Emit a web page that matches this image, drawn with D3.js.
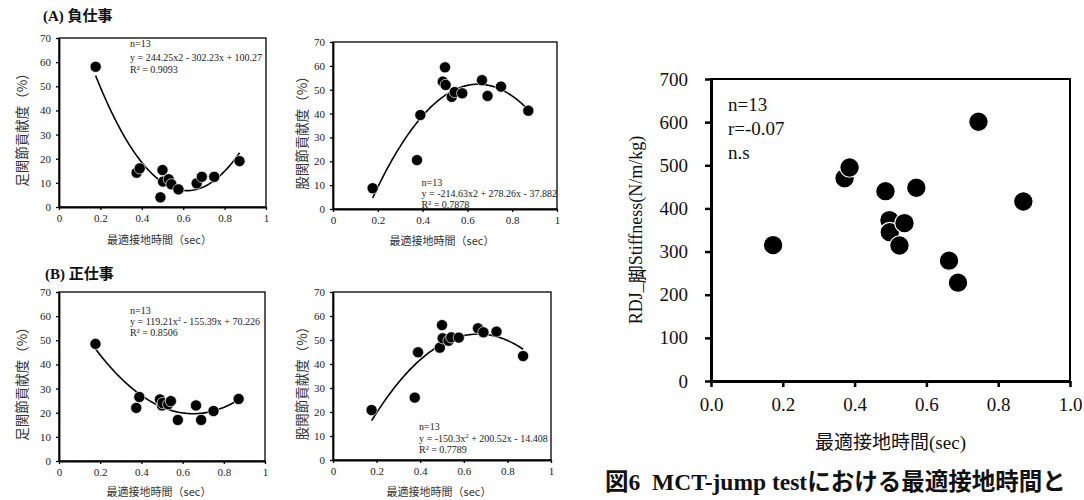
<!DOCTYPE html>
<html><head><meta charset="utf-8">
<script src="https://cdn.jsdelivr.net/npm/d3@7"></script>
<style>body{margin:0;background:#fff}</style></head><body>
<svg id="c" width="1084" height="500" xmlns="http://www.w3.org/2000/svg"></svg>
<script>
// ---- data ----
const contactTime = [0.177, 0.375, 0.39, 0.49, 0.5, 0.503, 0.53, 0.543, 0.577, 0.665, 0.69, 0.75, 0.872];
const ankleNeg = [58.1, 14.2, 16.0, 4.0, 15.3, 10.5, 11.5, 9.4, 7.3, 9.8, 12.5, 12.5, 19.0];
const hipNeg   = [8.7, 20.5, 39.4, 53.4, 59.4, 52.0, 47.0, 49.0, 48.5, 54.0, 47.4, 51.3, 41.2];
const anklePos = [48.5, 22.0, 26.5, 25.5, 23.0, 24.0, 23.5, 24.8, 17.0, 23.0, 17.0, 20.7, 25.7];
const hipPos   = [20.8, 26.0, 44.9, 46.8, 56.2, 50.7, 49.7, 51.1, 51.0, 54.9, 53.2, 53.5, 43.3];
const ankleNegFit = [244.25, -302.23, 100.27];
const hipNegFit   = [-214.63, 278.26, -37.882];
const anklePosFit = [119.21, -155.39, 70.226];
const hipPosFit   = [-150.3, 200.52, -14.408];
const smallYTicks = [0, 10, 20, 30, 40, 50, 60, 70];
const smallXTicks = [0, 0.2, 0.4, 0.6, 0.8, 1];

const stiffTime = [0.173, 0.372, 0.386, 0.486, 0.497, 0.498, 0.525, 0.539, 0.572, 0.663, 0.688, 0.745, 0.87];
const stiffness = [315, 470, 495, 440, 373, 345, 314, 366, 448, 279, 228, 601, 416];
const bigYTicks = [0, 100, 200, 300, 400, 500, 600, 700];
const bigXTicks = [0, 0.2, 0.4, 0.6, 0.8, 1.0];

const SERIF = "'Liberation Serif','Times New Roman',serif";
const CJK = "'Noto Sans CJK JP','Noto Sans',sans-serif";

const svg = d3.select('#c');

function smallPanel(cfg) {
  const x = d3.scaleLinear().domain([0, 1]).range([cfg.x0, cfg.x1]);
  const y = d3.scaleLinear().domain([0, 70]).range([cfg.yb, cfg.yt]);
  const g = svg.append('g');
  g.append('rect').attr('x', cfg.x0).attr('y', cfg.yt).attr('width', cfg.x1 - cfg.x0).attr('height', cfg.yb - cfg.yt)
    .attr('fill', 'none').attr('stroke', '#000').attr('stroke-width', 1.3);
  const ax = g.append('g').attr('transform', `translate(0,${cfg.yb})`)
    .call(d3.axisBottom(x).tickValues(smallXTicks).tickFormat(d3.format('')).tickSize(3).tickSizeOuter(0).tickPadding(4));
  const ay = g.append('g').attr('transform', `translate(${cfg.x0},0)`)
    .call(d3.axisLeft(y).tickValues(smallYTicks).tickSize(3).tickSizeOuter(0).tickPadding(5));
  [ax, ay].forEach(a => {
    a.select('.domain').attr('stroke-width', 1.8);
    a.selectAll('.tick line').attr('stroke-width', 1.3);
    a.selectAll('text').attr('font-family', SERIF).attr('font-size', 11).attr('fill', '#222');
  });
  const c = cfg.fit;
  const xs = d3.extent(contactTime);
  const pts = d3.range(0, 101).map(i => xs[0] + (xs[1] - xs[0]) * i / 100);
  g.append('path').attr('d', d3.line().x(d => x(d)).y(d => y(c[0] * d * d + c[1] * d + c[2]))(pts))
    .attr('fill', 'none').attr('stroke', '#000').attr('stroke-width', 1.6);
  g.selectAll('circle.p').data(cfg.vals).join('circle')
    .attr('cx', (d, i) => x(contactTime[i])).attr('cy', d => y(d)).attr('r', 5.6)
    .attr('fill', '#000').attr('stroke', '#fff').attr('stroke-width', 0.7);
  const t = g.append('g').attr('font-family', SERIF).attr('font-size', 10).attr('fill', '#222');
  t.append('text').attr('x', cfg.tx).attr('y', cfg.ty[0]).text('n=13');
  const eq = t.append('text').attr('x', cfg.tx).attr('y', cfg.ty[1]);
  eq.append('tspan').text(cfg.eq[0]);
  if (cfg.sup) {
    eq.append('tspan').attr('font-size', 6.5).attr('dy', -4).text('2');
    eq.append('tspan').attr('dy', 4).text(cfg.eq[1]);
  } else {
    eq.append('tspan').text('2' + cfg.eq[1]);
  }
  t.append('text').attr('x', cfg.tx).attr('y', cfg.ty[2]).text('R² = ' + cfg.r2);
  g.append('text').attr('transform', `translate(${cfg.ytx},${(cfg.yt + cfg.yb) / 2 + 4}) rotate(-90)`)
    .attr('text-anchor', 'middle').attr('dominant-baseline', 'central')
    .attr('font-family', CJK).attr('font-size', 13.5).attr('fill', '#333').text(cfg.ytitle);
  g.append('text').attr('x', (cfg.x0 + cfg.x1) / 2 - 3).attr('y', cfg.xty)
    .attr('text-anchor', 'middle').attr('font-family', CJK).attr('font-size', 11).attr('fill', '#333')
    .text('最適接地時間（sec）');
}

smallPanel({x0: 59, x1: 266, yt: 38, yb: 207, vals: ankleNeg, fit: ankleNegFit,
  eq: ['y = 244.25x', ' - 302.23x + 100.27'], sup: false, r2: '0.9093', tx: 130, ty: [46.5, 60.5, 72.5],
  ytitle: '足関節貢献度（%）', ytx: 21, xty: 244});
smallPanel({x0: 333, x1: 557, yt: 42, yb: 209, vals: hipNeg, fit: hipNegFit,
  eq: ['y = -214.63x', ' + 278.26x - 37.882'], sup: false, r2: '0.7878', tx: 421.5, ty: [185.5, 196.5, 207.5],
  ytitle: '股関節貢献度（%）', ytx: 301, xty: 245});
smallPanel({x0: 59, x1: 265, yt: 292, yb: 461, vals: anklePos, fit: anklePosFit,
  eq: ['y = 119.21x', ' - 155.39x + 70.226'], sup: true, r2: '0.8506', tx: 130, ty: [313.5, 324.5, 335.5],
  ytitle: '足関節貢献度（%）', ytx: 21, xty: 496});
smallPanel({x0: 333, x1: 551, yt: 292, yb: 460, vals: hipPos, fit: hipPosFit,
  eq: ['y = -150.3x', ' + 200.52x - 14.408'], sup: true, r2: '0.7789', tx: 419, ty: [430, 441.5, 453],
  ytitle: '股関節貢献度（%）', ytx: 301, xty: 496});

function panelTitle(x, y, lab, jp) {
  const t = svg.append('text').attr('x', x).attr('y', y).attr('font-weight', 'bold').attr('font-size', 15).attr('fill', '#111');
  t.append('tspan').attr('font-family', SERIF).text(lab + '\u00a0');
  t.append('tspan').attr('font-family', CJK).text(jp);
}
panelTitle(43, 20.5, '(A)', '負仕事');
panelTitle(45, 278.5, '(B)', '正仕事');

// ---- big chart ----
{
  const x0 = 711, x1 = 1070, yt = 79, yb = 381;
  const x = d3.scaleLinear().domain([0, 1]).range([x0, x1]);
  const y = d3.scaleLinear().domain([0, 700]).range([yb, yt]);
  const g = svg.append('g');
  g.append('rect').attr('x', x0).attr('y', yt).attr('width', x1 - x0).attr('height', yb - yt)
    .attr('fill', 'none').attr('stroke', '#000').attr('stroke-width', 2);
  const ax = g.append('g').attr('transform', `translate(0,${yb})`)
    .call(d3.axisBottom(x).tickValues(bigXTicks).tickFormat(d3.format('.1f')).tickSize(6).tickSizeOuter(0).tickPadding(11));
  const ay = g.append('g').attr('transform', `translate(${x0},0)`)
    .call(d3.axisLeft(y).tickValues(bigYTicks).tickSize(6).tickSizeOuter(0).tickPadding(17));
  [ax, ay].forEach(a => {
    a.select('.domain').attr('stroke-width', 3);
    a.selectAll('.tick line').attr('stroke-width', 2.5);
    a.selectAll('text').attr('font-family', SERIF).attr('font-size', 19).attr('fill', '#111');
  });
  g.selectAll('circle.s').data(stiffness).join('circle')
    .attr('cx', (d, i) => x(stiffTime[i])).attr('cy', d => y(d)).attr('r', 9.8)
    .attr('fill', '#000').attr('stroke', '#fff').attr('stroke-width', 1.2);
  const ann = g.append('g').attr('font-family', SERIF).attr('font-size', 19).attr('fill', '#111');
  ann.append('text').attr('x', 728).attr('y', 111).text('n=13');
  ann.append('text').attr('x', 728).attr('y', 135).text('r=-0.07');
  ann.append('text').attr('x', 728).attr('y', 159).text('n.s');
  const yt2 = g.append('text').attr('transform', `translate(636,${(yt + yb) / 2}) rotate(-90)`)
    .attr('text-anchor', 'middle').attr('dominant-baseline', 'central').attr('font-size', 18).attr('fill', '#111');
  yt2.append('tspan').attr('font-family', SERIF).text('RDJ_');
  yt2.append('tspan').attr('font-family', CJK).text('脚');
  yt2.append('tspan').attr('font-family', SERIF).text('Stiffness(N/m/kg)');
  const xt = g.append('text').attr('x', (x0 + x1) / 2).attr('y', 449).attr('text-anchor', 'middle').attr('font-size', 19).attr('fill', '#111');
  xt.append('tspan').attr('font-family', CJK).text('最適接地時間');
  xt.append('tspan').attr('font-family', SERIF).text('(sec)');
  const cap = svg.append('text').attr('x', 605).attr('y', 490).attr('font-weight', 'bold').attr('font-size', 23.5).attr('fill', '#111');
  cap.append('tspan').attr('font-family', CJK).text('図');
  cap.append('tspan').attr('font-family', SERIF).text('6\u00a0\u00a0MCT-jump test');
  cap.append('tspan').attr('font-family', CJK).text('における最適接地時間と');
}
</script>
</body></html>
